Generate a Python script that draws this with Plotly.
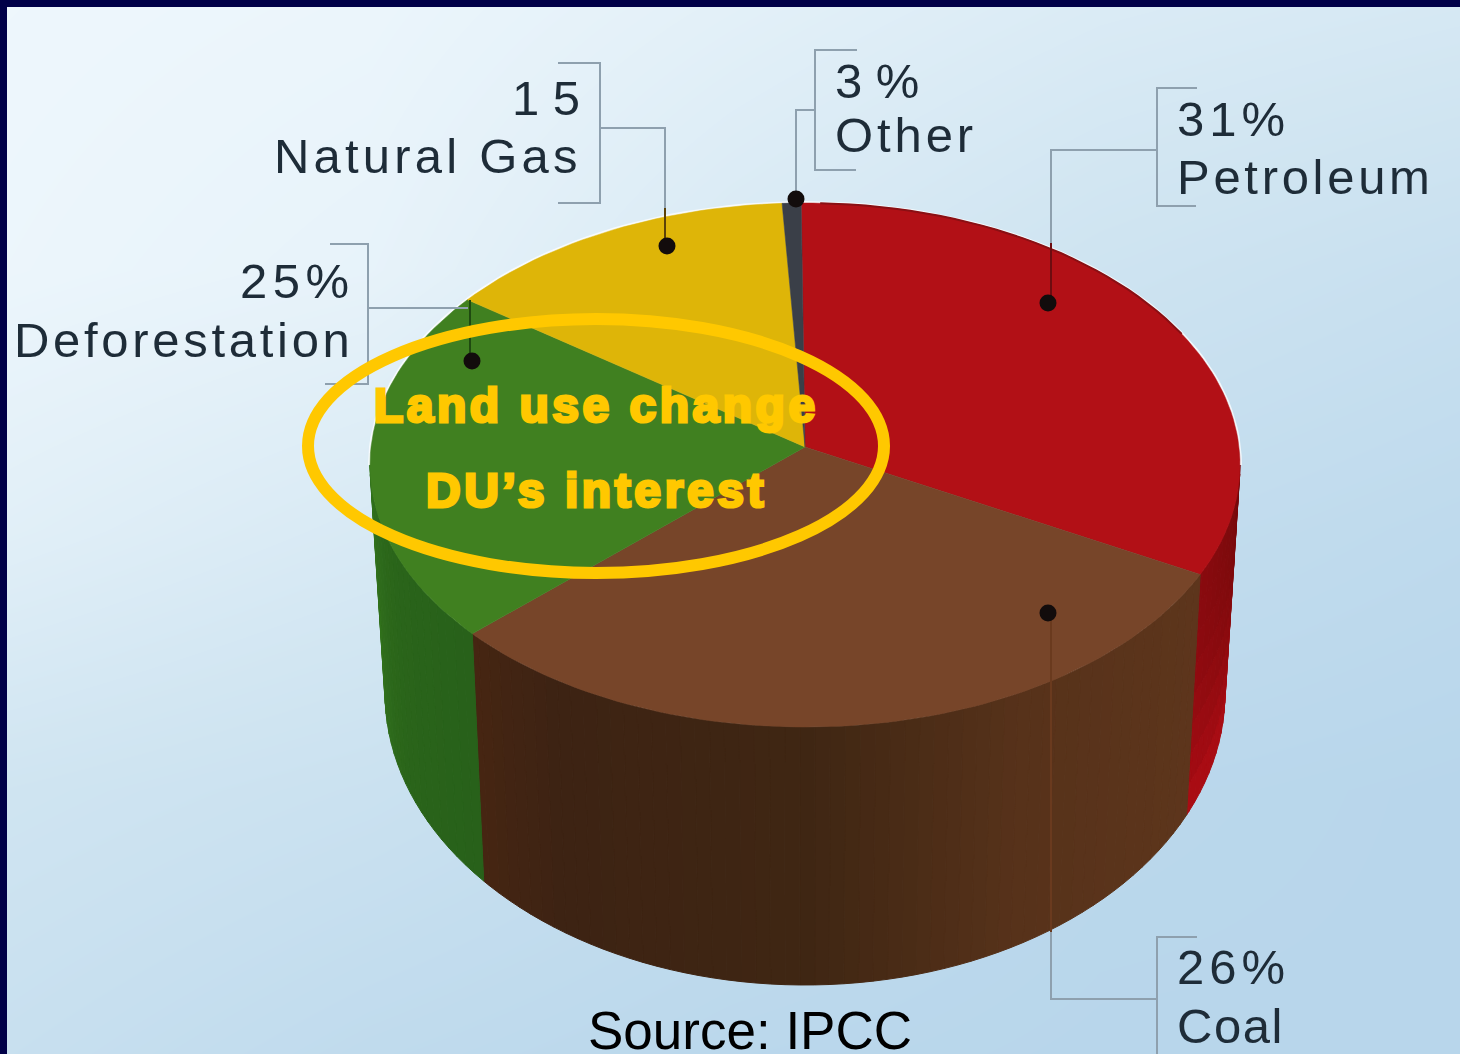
import math
import plotly.graph_objects as go

# ---- data ----
categories = ["Petroleum", "Coal", "Deforestation", "Natural Gas", "Other"]
value_labels = ["31%", "26%", "25%", "1 5", "3 %"]
# Angular share of the pie actually drawn in the picture (percent of the circle)
drawn_share = [32.0, 32.0, 22.0, 13.3, 0.7]
top_colors = ["#B21016", "#774529", "#408020", "#DEB508", "#3A3F48"]

bg_x = [7, 370, 730, 1100, 1460]
bg_y = [7, 270, 530, 790, 1054]
bg_level = [
    [0.96, 0.92, 0.78, 0.64, 0.56],
    [0.93, 0.85, 0.60, 0.42, 0.30],
    [0.75, 0.60, 0.40, 0.22, 0.12],
    [0.45, 0.35, 0.20, 0.05, 0.00],
    [0.30, 0.15, 0.05, 0.00, 0.00],
]

# wall colour stops: clockwise angle from the top, colour
wall_stops = {
    "Petroleum": [(85, "#6E0609"), (103, "#7E0A0C"), (120, "#8E0A10")],
    "Coal": [(110, "#5E361C"), (150, "#57321A"), (180, "#3F2613"), (215, "#3D2313"), (235, "#492612")],
    "Deforestation": [(225, "#27601A"), (250, "#2A641A"), (275, "#33741C")],
}
# the red wall brightens towards its foot
wall_foot = {"Petroleum": "#AE0C14"}

# label text: (text, x, y, xanchor, letter spacing)
label_rows = [
    ("1 5", 582, 98, "right", 0), ("Natural Gas", 584, 156, "right", 4.2),
    ("25%", 357, 281, "right", 5.5), ("Deforestation", 356, 340, "right", 3.7),
    ("3 %", 833, 81, "left", 0), ("Other", 833, 135, "left", 3.9),
    ("31%", 1175, 119, "left", 5), ("Petroleum", 1175, 177, "left", 3.7),
    ("26%", 1175, 967, "left", 5), ("Coal", 1175, 1026, "left", 1.5),
]
brackets = [
    ([558, 600, 600, 558], [63, 63, 203, 203]),
    ([330, 368, 368, 325], [244, 244, 384, 384]),
    ([857, 815, 815, 856], [50, 50, 170, 170]),
    ([1197, 1157, 1157, 1196], [88, 88, 206, 206]),
    ([1197, 1157, 1157], [937, 937, 1054]),
]
leaders_out = [
    ([600, 665, 665], [128, 128, 208]),
    ([368, 468], [308, 308]),
    ([815, 796, 796], [110, 110, 199]),
    ([1157, 1051, 1051], [150, 150, 243]),
    ([1157, 1051, 1051], [999, 999, 932]),
]
leaders_in = [
    ([665, 665], [208, 245], "#5C4208"),
    ([470, 470], [300, 361], "#1F4A10"),
    ([1051, 1051], [243, 302], "#6E0C10"),
    ([1051, 1051], [613, 932], "#6A3A1E"),
]
dot_x = [667, 472, 796, 1048, 1048]
dot_y = [246, 361, 199, 303, 613]

# ---- geometry of the drawn cylinder ----
TOP = dict(cx=805, cy=465, rx=435, ry=262)
BOT = dict(cx=805, cy=693, rx=420, ry=292)
APEX = (805, 447)
ROT = -0.5


def pt(e, t):
    a = math.radians(t)
    return e["cx"] + e["rx"] * math.sin(a), e["cy"] - e["ry"] * math.cos(a)


def hex2rgb(h):
    return tuple(int(h[i:i + 2], 16) for i in (1, 3, 5))


def to_rgb(c):
    return "rgb(%d,%d,%d)" % tuple(round(v) for v in c)


def mix(a, b, f):
    return tuple(x + (y - x) * f for x, y in zip(a, b))


def wall_color(stops, t):
    for (a, ca), (b, cb) in zip(stops, stops[1:]):
        if a <= t <= b:
            return mix(hex2rgb(ca), hex2rgb(cb), (t - a) / (b - a))
    return hex2rgb(stops[-1][1])


def lerp_pt(p, q, f):
    return p[0] + (q[0] - p[0]) * f, p[1] + (q[1] - p[1]) * f


fig = go.Figure()

fig.add_trace(go.Heatmap(
    x=bg_x, y=bg_y, z=bg_level, zsmooth="best", showscale=False, hoverinfo="skip",
    zmin=0, zmax=1, colorscale=[[0, "#B8D6EB"], [0.5, "#D2E6F2"], [1, "#F0F8FD"]],
))

# boundaries in degrees
edges = [ROT]
for s in drawn_share:
    edges.append(edges[-1] + s * 3.6)

# soft light rim round the top face
rim = [pt(TOP, t) for t in range(-90, 91, 2)]
fig.add_trace(go.Scatter(x=[p[0] for p in rim], y=[p[1] for p in rim], mode="lines",
                         line=dict(color="rgba(255,255,255,0.75)", width=4), hoverinfo="skip"))


def add_quad(a, b, c, d, col):
    fig.add_trace(go.Scatter(
        x=[a[0], b[0], c[0], d[0], a[0]], y=[a[1], b[1], c[1], d[1], a[1]],
        mode="lines", fill="toself", fillcolor=col, line=dict(color=col, width=1),
        hoverinfo="skip"))


# side walls
for i, cat in enumerate(categories):
    if cat not in wall_stops:
        continue
    lo, hi = max(edges[i], 90), min(edges[i + 1], 270)
    bands = 8 if cat in wall_foot else 1
    t = lo
    while t < hi:
        t2 = min(t + 2, hi)
        base = wall_color(wall_stops[cat], (t + t2) / 2)
        a0, b0 = pt(TOP, t), pt(TOP, t2)
        c0, d0 = pt(BOT, t2), pt(BOT, t)
        for k in range(bands):
            f0, f1 = k / bands, (k + 1) / bands
            col = base
            if cat in wall_foot:
                col = mix(base, hex2rgb(wall_foot[cat]), ((f0 + f1) / 2) ** 2)
            add_quad(lerp_pt(a0, d0, f0), lerp_pt(b0, c0, f0),
                     lerp_pt(b0, c0, f1), lerp_pt(a0, d0, f1), to_rgb(col))
        t = t2

# top face
for i, cat in enumerate(categories):
    n = max(2, int((edges[i + 1] - edges[i]) / 1.5))
    arc = [pt(TOP, edges[i] + (edges[i + 1] - edges[i]) * k / n) for k in range(n + 1)]
    xs = [APEX[0]] + [p[0] for p in arc] + [APEX[0]]
    ys = [APEX[1]] + [p[1] for p in arc] + [APEX[1]]
    fig.add_trace(go.Scatter(x=xs, y=ys, mode="lines", fill="toself", fillcolor=top_colors[i],
                             line=dict(color=top_colors[i], width=0.5), hoverinfo="skip", name=cat))

# dark edge on the far side of the red slice
edge = [pt(TOP, t) for t in range(2, 62, 2)]
fig.add_trace(go.Scatter(x=[p[0] for p in edge], y=[p[1] for p in edge], mode="lines",
                         line=dict(color="#8A1014", width=2), hoverinfo="skip"))

# leaders and brackets
for xs, ys in brackets + leaders_out:
    fig.add_trace(go.Scatter(x=xs, y=ys, mode="lines", line=dict(color="#8EA0AE", width=2),
                             hoverinfo="skip"))
for xs, ys, col in leaders_in:
    fig.add_trace(go.Scatter(x=xs, y=ys, mode="lines", line=dict(color=col, width=2),
                             hoverinfo="skip"))
fig.add_trace(go.Scatter(x=dot_x, y=dot_y, mode="markers",
                         marker=dict(color="#120C0C", size=17), hoverinfo="skip"))

annotations = []
for text, x, y, anchor, sp in label_rows:
    annotations.append(dict(
        x=x, y=y, xref="x", yref="y", xanchor=anchor, yanchor="middle", showarrow=False,
        text='<span style="letter-spacing:%spx">%s</span>' % (sp, text),
        font=dict(family="Liberation Sans", size=49, color="#1E2C38")))

for text, y, sp in [("Land use change", 405, 3.5), ("DU’s interest", 490, 3.6)]:
    annotations.append(dict(
        x=596, y=y, xref="x", yref="y", xanchor="center", yanchor="middle", showarrow=False,
        text='<b style="letter-spacing:%spx;stroke:#FFC800;stroke-width:3px">%s</b>' % (sp, text),
        font=dict(family="Liberation Sans", size=48, color="#FFC800")))

annotations.append(dict(
    x=750, y=1030, xref="x", yref="y", xanchor="center", yanchor="middle", showarrow=False,
    text="Source: IPCC", font=dict(family="Liberation Sans", size=53, color="#000000")))

shapes = [
    dict(type="circle", xref="x", yref="y", x0=308, x1=884, y0=319, y1=573,
         line=dict(color="#FFC800", width=12), fillcolor="rgba(0,0,0,0)", layer="above"),
    dict(type="rect", xref="x", yref="y", x0=0, x1=7, y0=0, y1=1054,
         fillcolor="#000048", line=dict(width=0), layer="above"),
    dict(type="rect", xref="x", yref="y", x0=0, x1=1460, y0=0, y1=7,
         fillcolor="#000048", line=dict(width=0), layer="above"),
]

fig.update_layout(
    width=1460, height=1054, margin=dict(l=0, r=0, t=0, b=0, pad=0),
    paper_bgcolor="#000048", plot_bgcolor="#000048", showlegend=False,
    xaxis=dict(range=[0, 1460], visible=False, fixedrange=True),
    yaxis=dict(range=[1054, 0], visible=False, fixedrange=True),
    annotations=annotations, shapes=shapes,
)

fig.write_html(
    "out.html", config=dict(displayModeBar=False),
    post_script="document.body.style.margin='0';document.documentElement.style.overflow='hidden';",
)
